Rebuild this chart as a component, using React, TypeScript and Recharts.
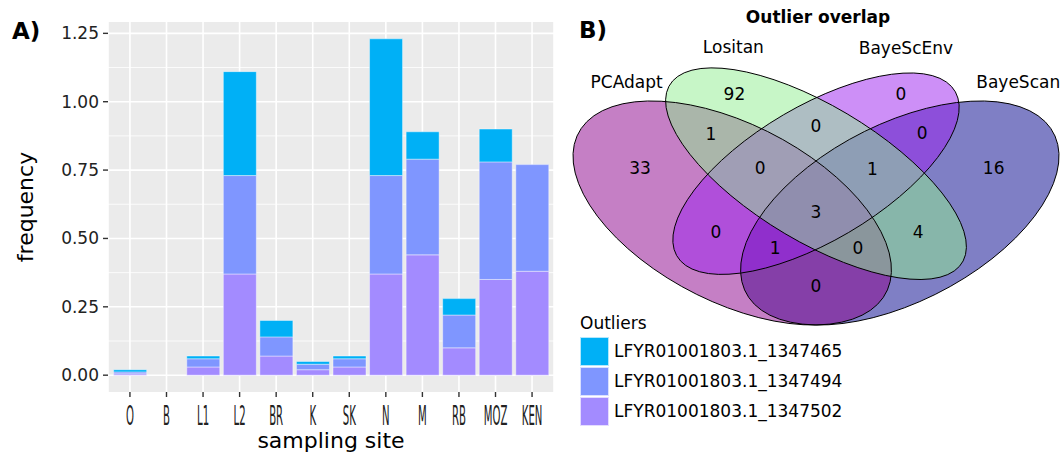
import React from "react";
import {
  BarChart,
  Bar,
  XAxis,
  YAxis,
  CartesianGrid,
  Label,
  ScatterChart,
  Scatter,
} from "recharts";

// panel A: outlier allele frequency per sampling site (stacked)
const sites = ["O", "B", "L1", "L2", "BR", "K", "SK", "N", "M", "RB", "MOZ", "KEN"];
const freq1347502 = [0.005, 0, 0.03, 0.37, 0.07, 0.02, 0.03, 0.37, 0.44, 0.1, 0.35, 0.38];
const freq1347494 = [0.007, 0, 0.03, 0.36, 0.07, 0.02, 0.03, 0.36, 0.35, 0.12, 0.43, 0.39];
const freq1347465 = [0.008, 0, 0.01, 0.38, 0.06, 0.01, 0.01, 0.5, 0.1, 0.06, 0.12, 0];
const outlierNames = [
  "LFYR01001803.1_1347465",
  "LFYR01001803.1_1347494",
  "LFYR01001803.1_1347502",
];
const outlierColors = ["#00B0F6", "#7F96FF", "#A38BFF"];
const yTicks = [0, 0.25, 0.5, 0.75, 1, 1.25];
const yMinor = [0.125, 0.375, 0.625, 0.875, 1.125];

// panel B: four-set venn (VennDiagram layout, npc units), listed in drawing order
const setNames = ["BayeScan", "PCAdapt", "BayeScEnv", "Lositan"];
const setX = [0.65, 0.35, 0.5, 0.5];
const setY = [0.47, 0.47, 0.57, 0.57];
const setA = [0.35, 0.35, 0.33, 0.35];
const setB = [0.2, 0.2, 0.15, 0.15];
const setRot = [45, 135, 45, 135];
const setFill = ["#00008B", "#8B008B", "#9B1FF0", "#90EE90"];
const setLabelX = [0.862, 0.161, 0.661, 0.352];
const setLabelY = [0.803, 0.803, 0.89, 0.892];

const regionCounts = [92, 0, 33, 1, 0, 0, 16, 0, 1, 3, 0, 4, 1, 0, 0];
const regionX = [0.354, 0.652, 0.185, 0.312, 0.5, 0.69, 0.818, 0.4, 0.601, 0.5, 0.321, 0.683, 0.427, 0.575, 0.5];
const regionY = [0.774, 0.774, 0.584, 0.671, 0.691, 0.674, 0.584, 0.584, 0.582, 0.473, 0.422, 0.422, 0.382, 0.382, 0.284];

const barData = sites.map((site, i) => ({
  site,
  s502: freq1347502[i],
  s494: freq1347494[i],
  s465: freq1347465[i],
}));

const ellipseData = setNames.map((name, i) => ({
  name,
  x: setX[i],
  y: setY[i],
  a: setA[i],
  b: setB[i],
  rot: setRot[i],
  fill: setFill[i],
}));
const setLabelData = setNames.map((name, i) => ({ name, x: setLabelX[i], y: setLabelY[i] }));
const regionData = regionCounts.map((n, i) => ({ n, x: regionX[i], y: regionY[i] }));

const FONT = "DejaVu Sans, Verdana, sans-serif";
const VX = 558.6; // px per npc unit, venn
const VY = 393;

// site labels are drawn squeezed horizontally, like the original
const SiteTick = (props: any) => {
  const { x, y, payload } = props;
  return (
    <g transform={`translate(${x},${y + 26}) scale(0.39,1)`}>
      <text textAnchor="middle" fontSize={26} fill="#222">
        {payload.value}
      </text>
    </g>
  );
};

const EllipseFill = (p: any) => {
  const d = p.payload;
  return (
    <g transform={`translate(${p.cx},${p.cy}) scale(${VX},${-VY}) rotate(${d.rot})`}>
      <ellipse rx={d.a} ry={d.b} fill={d.fill} fillOpacity={0.5} stroke="none" />
    </g>
  );
};

const EllipseLine = (p: any) => {
  const d = p.payload;
  return (
    <g transform={`translate(${p.cx},${p.cy}) scale(${VX},${-VY}) rotate(${d.rot})`}>
      <ellipse
        rx={d.a}
        ry={d.b}
        fill="none"
        stroke="#000"
        strokeWidth={1}
        vectorEffect="non-scaling-stroke"
      />
    </g>
  );
};

const CountText = (p: any) => (
  <text x={p.cx} y={p.cy} dy="0.36em" textAnchor="middle" fontSize={17} fill="#000">
    {p.payload.n}
  </text>
);

const SetText = (p: any) => (
  <text x={p.cx} y={p.cy} dy="0.36em" textAnchor="middle" fontSize={17} fill="#000">
    {p.payload.name}
  </text>
);

export default function App() {
  return (
    <div
      style={{
        position: "absolute",
        left: 0,
        top: 0,
        width: 1060,
        height: 457,
        background: "#fff",
        fontFamily: FONT,
        overflow: "hidden",
      }}
    >
      <div style={{ position: "absolute", left: 0, top: 0 }}>
        <BarChart
          width={570}
          height={457}
          data={barData}
          margin={{ top: 22, right: 16, bottom: 5, left: 38 }}
        >
          <CartesianGrid
            fill="#EBEBEB"
            stroke="#FFFFFF"
            strokeWidth={0.8}
            vertical={false}
            horizontalValues={yMinor}
          />
          <CartesianGrid stroke="#FFFFFF" strokeWidth={1.6} horizontalValues={yTicks} />
          <XAxis
            dataKey="site"
            height={60}
            padding={{ left: 3.66, right: 3.66 }}
            axisLine={false}
            tickSize={5}
            tickMargin={2}
            tickLine={{ stroke: "#333", strokeWidth: 1.4 }}
            tick={<SiteTick />}
            interval={0}
          >
            <Label
              content={({ viewBox }: any) => (
                <text
                  x={viewBox.x + viewBox.width / 2}
                  y={viewBox.y + 56}
                  textAnchor="middle"
                  fontSize={22}
                  fill="#000"
                >
                  sampling site
                </text>
              )}
            />
          </XAxis>
          <YAxis
            width={70}
            domain={[-0.0615, 1.2915]}
            ticks={yTicks}
            tickFormatter={(v: number) => v.toFixed(2)}
            axisLine={false}
            tickSize={5}
            tickMargin={4}
            tickLine={{ stroke: "#333", strokeWidth: 1.4 }}
            tick={{ fontSize: 17, fill: "#222" }}
          >
            <Label
              content={({ viewBox }: any) => (
                <text
                  transform={`translate(${viewBox.x - 5},${viewBox.y + viewBox.height / 2}) rotate(-90)`}
                  textAnchor="middle"
                  fontSize={22}
                  fill="#000"
                >
                  frequency
                </text>
              )}
            />
          </YAxis>
          <Bar dataKey="s502" stackId="a" fill={outlierColors[2]} barSize={33} stroke="#fff" strokeOpacity={0.7} strokeWidth={0.6} isAnimationActive={false} />
          <Bar dataKey="s494" stackId="a" fill={outlierColors[1]} barSize={33} stroke="#fff" strokeOpacity={0.7} strokeWidth={0.6} isAnimationActive={false} />
          <Bar dataKey="s465" stackId="a" fill={outlierColors[0]} barSize={33} stroke="#fff" strokeOpacity={0.7} strokeWidth={0.6} isAnimationActive={false} />
        </BarChart>
      </div>

      <div style={{ position: "absolute", left: 0, top: 0 }}>
        <ScatterChart
          width={1060}
          height={457}
          margin={{ top: 4.7, right: 3.8, bottom: 59.3, left: 536.7 }}
        >
          <XAxis type="number" dataKey="x" domain={[0, 0.93]} hide />
          <YAxis type="number" dataKey="y" domain={[0, 1]} hide />
          <Scatter data={ellipseData} shape={<EllipseFill />} isAnimationActive={false} />
          <Scatter data={ellipseData} shape={<EllipseLine />} isAnimationActive={false} />
          <Scatter data={regionData} shape={<CountText />} isAnimationActive={false} />
          <Scatter data={setLabelData} shape={<SetText />} isAnimationActive={false} />
        </ScatterChart>
      </div>

      <svg
        width={1060}
        height={457}
        style={{ position: "absolute", left: 0, top: 0, pointerEvents: "none" }}
      >
        <text x={12} y={39} fontSize={23} fontWeight="bold" fill="#000">
          A)
        </text>
        <text x={579} y={38} fontSize={23} fontWeight="bold" fill="#000">
          B)
        </text>
        <text x={818} y={23} fontSize={17} fontWeight="bold" textAnchor="middle" fill="#000">
          Outlier overlap
        </text>
      </svg>

      <div style={{ position: "absolute", left: 580, top: 312, fontSize: 17, color: "#000" }}>
        <div style={{ height: 22, lineHeight: "22px" }}>Outliers</div>
        {outlierNames.map((name, i) => (
          <div
            key={name}
            style={{ display: "flex", alignItems: "center", height: 30, marginTop: i === 0 ? 2 : 0 }}
          >
            <div
              style={{
                width: 29,
                height: 29,
                background: outlierColors[i],
                boxSizing: "border-box",
                border: "1px solid rgba(255,255,255,0.7)",
              }}
            />
            <div style={{ marginLeft: 5, whiteSpace: "nowrap" }}>{name}</div>
          </div>
        ))}
      </div>
    </div>
  );
}
